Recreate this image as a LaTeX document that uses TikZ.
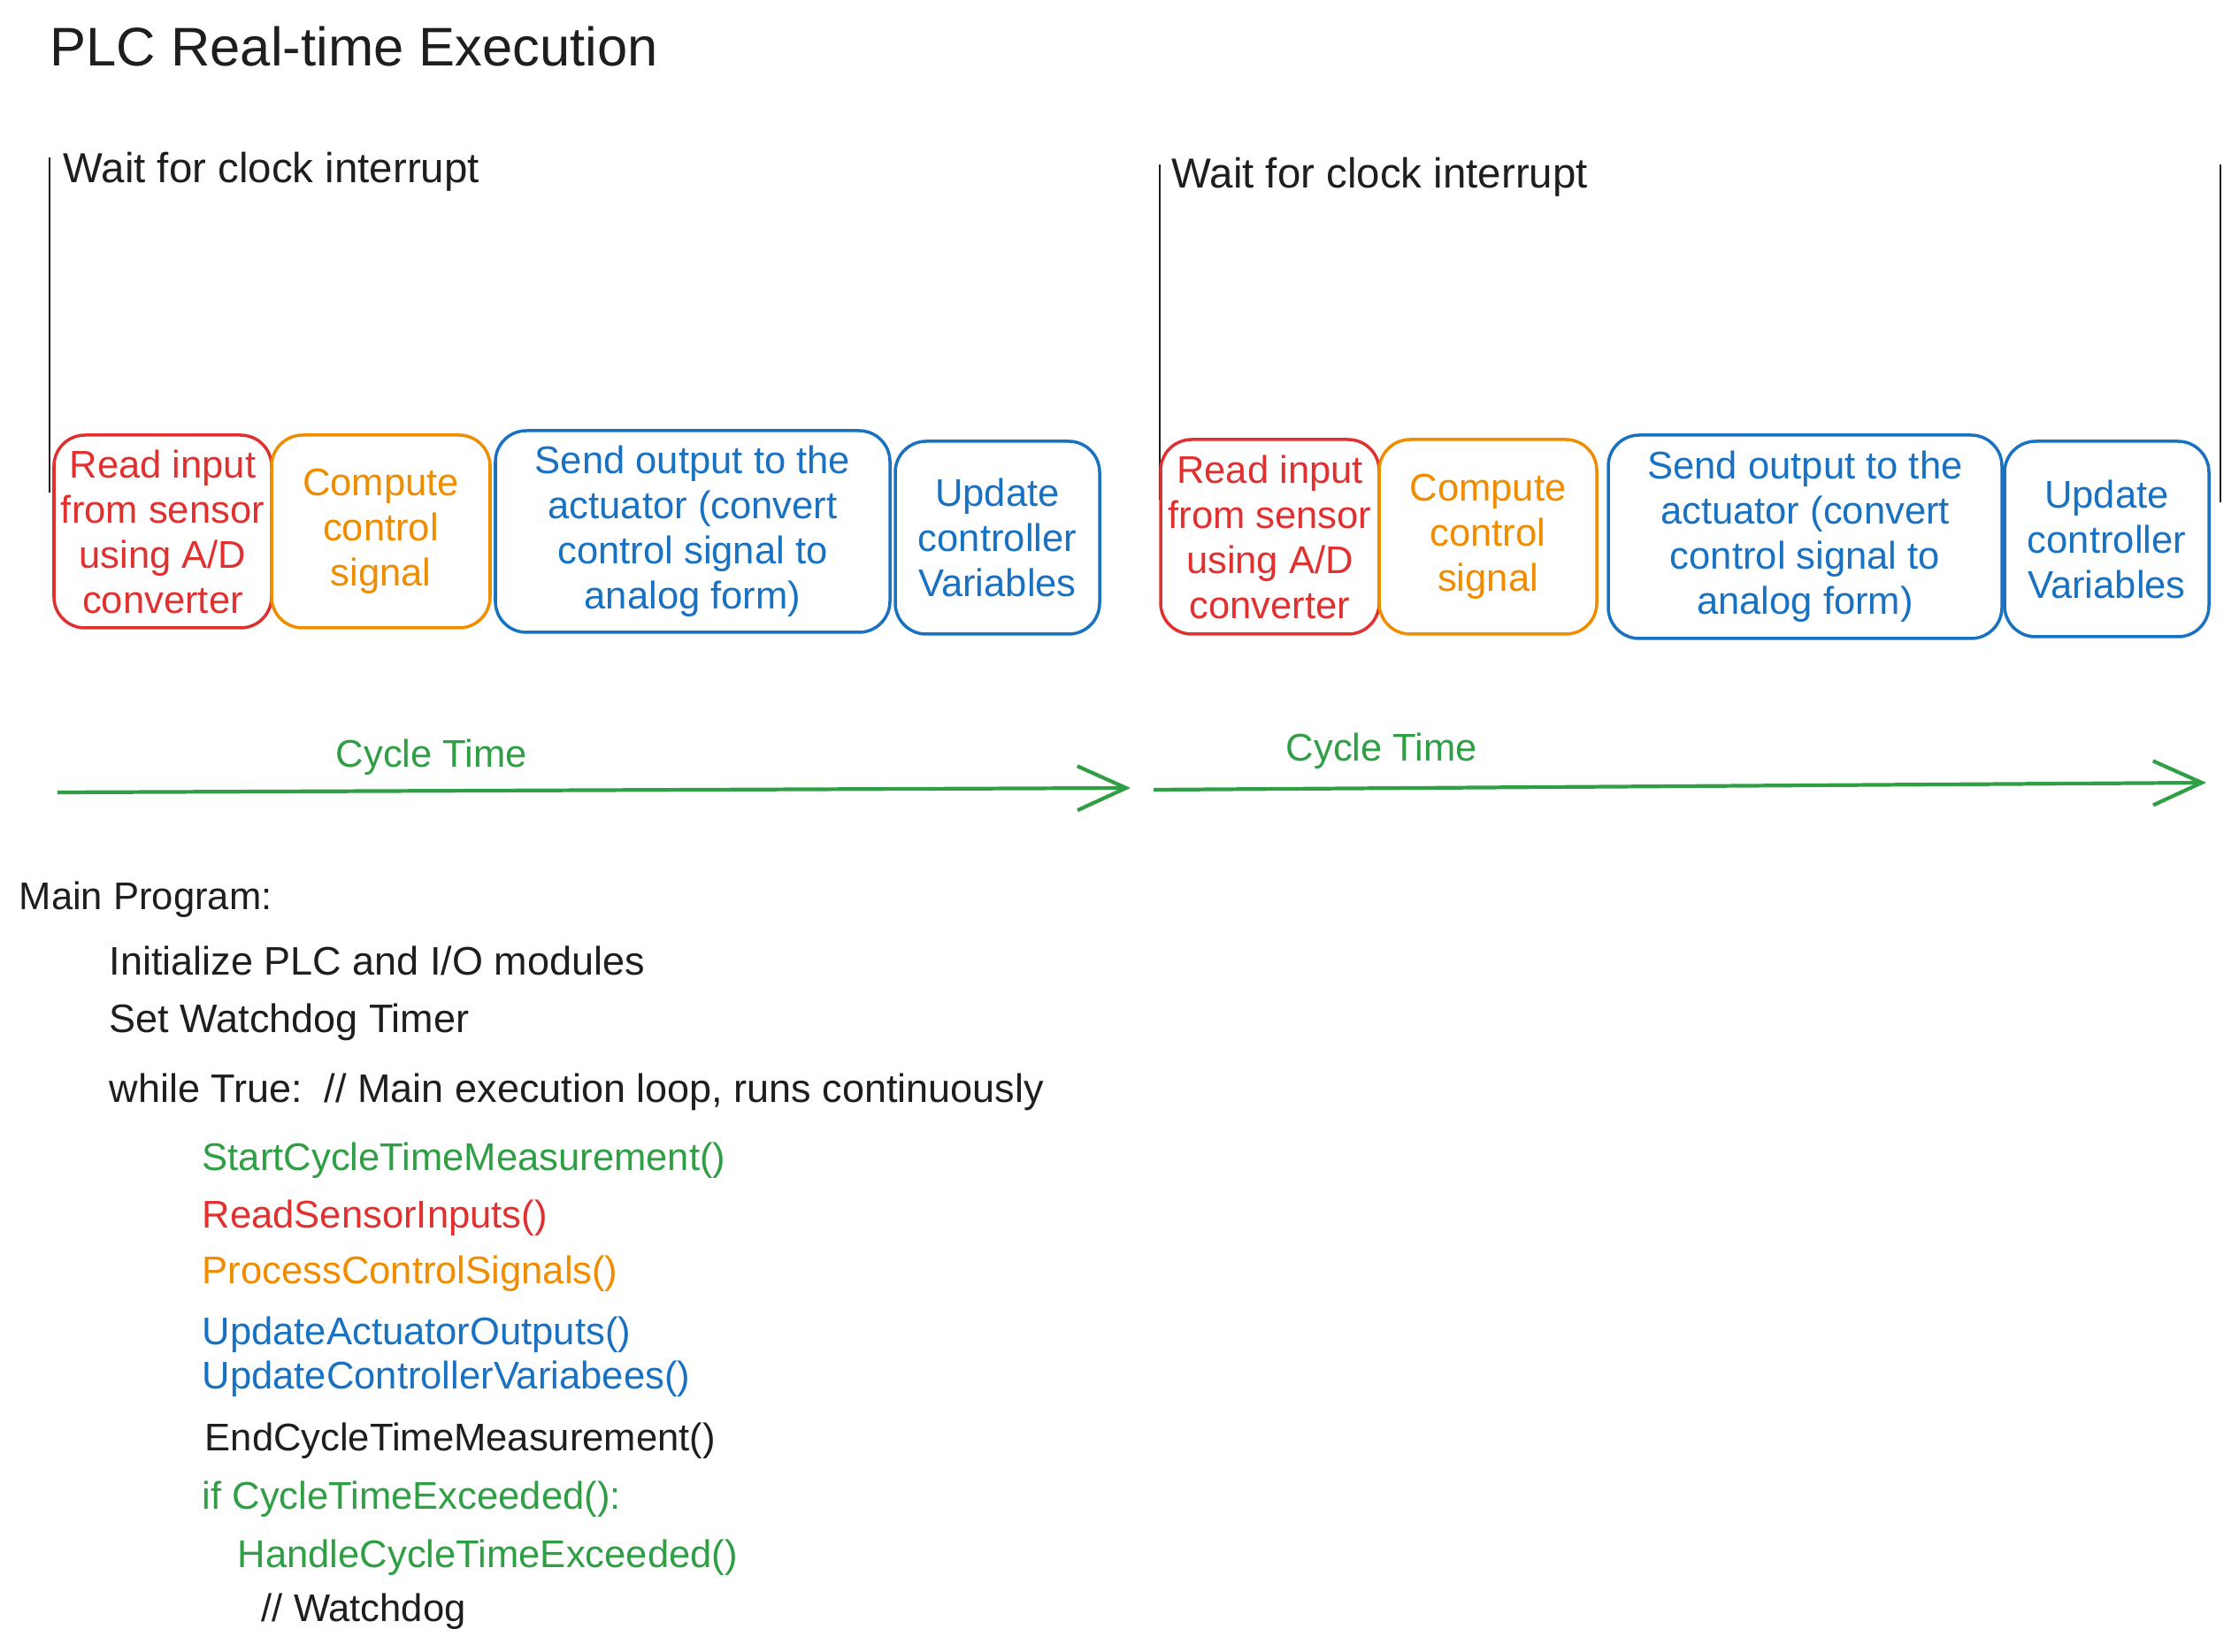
\documentclass[tikz,border=0pt]{standalone}
\usepackage{fontspec}
\setmainfont{Liberation Sans}
\usetikzlibrary{arrows.meta}
\definecolor{exred}{HTML}{E03131}
\definecolor{exorange}{HTML}{F08C00}
\definecolor{exblue}{HTML}{1971C2}
\definecolor{exgreen}{HTML}{2F9E44}
\definecolor{exblack}{HTML}{1E1E1E}

\begin{document}
\begin{tikzpicture}[color=exblack,
  every node/.style={font=\fontsize{12.4}{14.5}\selectfont},
  stage/.style={draw, line width=1pt, rounded corners=0.35cm, align=center, inner sep=0pt},
  codeline/.style={anchor=west, inner sep=0pt},
  timearrow/.style={exgreen, line width=1.2pt, -{Straight Barb[length=5.5mm,width=5mm]}}]
  \useasboundingbox (0,0) rectangle (25.31,18.67);

  \node[anchor=west, inner sep=0pt, font=\fontsize{17.5}{20}\selectfont] (title) at (0.56,18.14) {PLC Real-time Execution};

  \coordinate (tick1top) at (0.56,16.89);
  \coordinate (tick1bot) at (0.56,13.10);
  \draw[line width=0.8pt] (tick1top) -- (tick1bot);
  \node[anchor=west, inner sep=0pt, font=\fontsize{13.5}{16}\selectfont] (wait1) at (0.71,16.73) {Wait for clock interrupt};

  \node[stage, exred, minimum width=2.46cm, minimum height=2.18cm] (read1) at (1.84,12.66) {Read input\\from sensor\\using A/D\\converter};
  \node[stage, exorange, minimum width=2.47cm, minimum height=2.18cm] (compute1) at (4.305,12.66) {Compute\\control\\signal};
  \node[stage, exblue, minimum width=4.46cm, minimum height=2.28cm] (send1) at (7.83,12.66) {Send output to the\\actuator (convert\\control signal to\\analog form)};
  \node[stage, exblue, minimum width=2.31cm, minimum height=2.18cm] (update1) at (11.275,12.59) {Update\\controller\\Variables};

  \node[exgreen] (cycle1) at (4.88,10.11) {Cycle Time};
  \coordinate (c1start) at (0.65,9.71);
  \coordinate (c1end) at (12.78,9.76);
  \draw[timearrow] (c1start) -- (c1end);

  \coordinate (tick2top) at (13.11,16.81);
  \coordinate (tick2bot) at (13.11,13.02);
  \draw[line width=0.8pt] (tick2top) -- (tick2bot);
  \node[anchor=west, inner sep=0pt, font=\fontsize{13.5}{16}\selectfont] (wait2) at (13.24,16.67) {Wait for clock interrupt};
  \coordinate (tick3top) at (25.10,16.81);
  \coordinate (tick3bot) at (25.10,12.99);
  \draw[line width=0.8pt] (tick3top) -- (tick3bot);

  \node[stage, exred, minimum width=2.47cm, minimum height=2.2cm] (read2) at (14.355,12.60) {Read input\\from sensor\\using A/D\\converter};
  \node[stage, exorange, minimum width=2.46cm, minimum height=2.2cm] (compute2) at (16.82,12.60) {Compute\\control\\signal};
  \node[stage, exblue, minimum width=4.45cm, minimum height=2.3cm] (send2) at (20.405,12.60) {Send output to the\\actuator (convert\\control signal to\\analog form)};
  \node[stage, exblue, minimum width=2.31cm, minimum height=2.21cm] (update2) at (23.815,12.575) {Update\\controller\\Variables};

  \node[exgreen] (cycle2) at (15.62,10.18) {Cycle Time};
  \coordinate (c2start) at (13.04,9.74);
  \coordinate (c2end) at (24.94,9.82);
  \draw[timearrow] (c2start) -- (c2end);

  \node[codeline] (main) at (0.21,8.50) {Main Program:};
  \node[codeline, font=\fontsize{12.8}{15}\selectfont] (init) at (1.23,7.81) {Initialize PLC and I/O modules};
  \node[codeline, font=\fontsize{12.8}{15}\selectfont] (setwd) at (1.23,7.11) {Set Watchdog Timer};
  \node[codeline, font=\fontsize{12.8}{15}\selectfont] (loop) at (1.23,6.32) {while True:\ \ // Main execution loop, runs continuously};
  \node[codeline, exgreen] (startcall) at (2.28,5.55) {StartCycleTimeMeasurement()};
  \node[codeline, exred] (readcall) at (2.28,4.90) {ReadSensorInputs()};
  \node[codeline, exorange] (proccall) at (2.28,4.27) {ProcessControlSignals()};
  \node[codeline, exblue] (actcall) at (2.28,3.58) {UpdateActuatorOutputs()};
  \node[codeline, exblue] (varcall) at (2.28,3.08) {UpdateControllerVariabees()};
  \node[codeline] (endcall) at (2.31,2.38) {EndCycleTimeMeasurement()};
  \node[codeline, exgreen] (ifcall) at (2.28,1.72) {if CycleTimeExceeded():};
  \node[codeline, exgreen] (handlecall) at (2.68,1.06) {HandleCycleTimeExceeded()};
  \node[codeline] (wdnote) at (2.95,0.45) {// Watchdog};
\end{tikzpicture}
\end{document}
